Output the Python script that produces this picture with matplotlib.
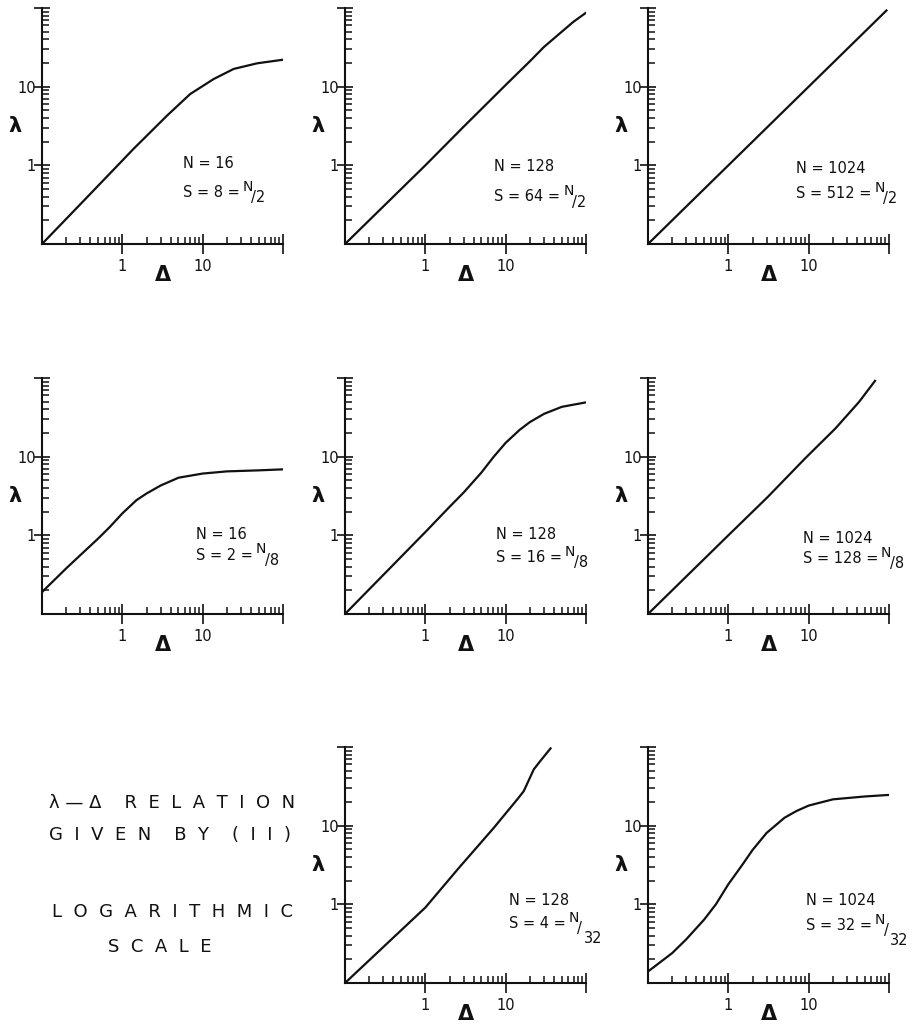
import matplotlib
matplotlib.use("Agg")
import matplotlib.pyplot as plt
from matplotlib.ticker import FixedLocator, FixedFormatter, LogLocator, NullFormatter

plt.rcParams['font.family'] = ['DejaVu Sans']

INK = '#111111'

# (delta, lambda)
x_16_2 = [0.1, 0.3, 1, 1.37, 2, 3.59, 7, 13.7, 24.3, 47.5, 100]
y_16_2 = [0.1, 0.32, 1.15, 1.61, 2.36, 4.27, 8.07, 12.5, 16.8, 19.8, 22]

x_128_2 = [0.1, 1, 3, 10, 20, 30, 50, 70, 100]
y_128_2 = [0.1, 1.0, 3.1, 10.5, 21, 32, 50, 67, 87]

x_1024_2 = [0.1, 1, 10, 93]
y_1024_2 = [0.1, 1, 10, 93]

x_16_8 = [0.1, 0.2, 0.3, 0.5, 0.7, 1, 1.5, 2, 3, 5, 10, 20, 50, 100]
y_16_8 = [0.19, 0.38, 0.56, 0.91, 1.28, 1.9, 2.8, 3.4, 4.3, 5.4, 6.1, 6.5, 6.7, 6.9]

x_128_8 = [0.1, 1, 2, 3, 5, 7, 10, 15, 20, 30, 50, 100]
y_128_8 = [0.1, 1.1, 2.3, 3.5, 6.3, 9.8, 15, 22, 27.5, 35, 43, 49]

x_1024_8 = [0.1, 1, 3.09, 8.97, 21.5, 42.5, 67]
y_1024_8 = [0.1, 1.0, 3.07, 9.44, 22.8, 49.8, 92]

x_128_32 = [0.1, 1, 2.59, 7.08, 13.9, 16.8, 22.4, 27.1, 36.2]
y_128_32 = [0.1, 0.91, 2.87, 9.33, 21.5, 27.5, 52, 66.7, 96]

x_1024_32 = [0.1, 0.2, 0.3, 0.5, 0.7, 1, 1.5, 2, 3, 5, 7, 10, 20, 50, 100]
y_1024_32 = [0.14, 0.24, 0.36, 0.64, 1.0, 1.8, 3.2, 4.9, 8.1, 12.6, 15.3, 18, 21.6, 23.5, 24.6]

n_values = [16, 128, 1024, 16, 128, 1024, 128, 1024]
s_values = [8, 64, 512, 2, 16, 128, 4, 32]
s_denoms = [2, 2, 2, 8, 8, 8, 32, 32]
curves = [(x_16_2, y_16_2), (x_128_2, y_128_2), (x_1024_2, y_1024_2),
          (x_16_8, y_16_8), (x_128_8, y_128_8), (x_1024_8, y_1024_8),
          (x_128_32, y_128_32), (x_1024_32, y_1024_32)]

# grid slot (row, col) of each panel, and label anchor in axes fraction
slots = [(0, 0), (0, 1), (0, 2), (1, 0), (1, 1), (1, 2), (2, 1), (2, 2)]
label_xy = [(0.585, 0.343, 0.22), (0.62, 0.33, 0.2), (0.614, 0.32, 0.215),
            (0.64, 0.335, 0.25), (0.627, 0.335, 0.24), (0.643, 0.32, 0.236),
            (0.68, 0.35, 0.254), (0.655, 0.35, 0.245)]

W, H = 923, 1026
fig = plt.figure(figsize=(W / 100, H / 100), dpi=100)
col_left = [42, 345, 648]
row_bottom = [244, 614, 983]
aw, ah = 241, 236

for i, ((r, c), (xs, ys)) in enumerate(zip(slots, curves)):
    lx, ly1, ly2 = label_xy[i]
    ax = fig.add_axes([col_left[c] / W, 1 - row_bottom[r] / H, aw / W, ah / H])
    ax.plot(xs, ys, color=INK, lw=1.6, solid_joinstyle='round')
    ax.set_xscale('log')
    ax.set_yscale('log')
    ax.set_xlim(0.1, 100)
    ax.set_ylim(0.1, 100)
    ax.patch.set_visible(False)
    for sp in ['top', 'right']:
        ax.spines[sp].set_visible(False)
    for sp in ['left', 'bottom']:
        ax.spines[sp].set_linewidth(1.5)
        ax.spines[sp].set_color(INK)
    for axis in [ax.xaxis, ax.yaxis]:
        axis.set_major_locator(FixedLocator([1, 10, 100]))
        axis.set_major_formatter(FixedFormatter(['1', '10', '']))
        axis.set_minor_locator(LogLocator(base=10, subs=range(2, 10), numticks=20))
        axis.set_minor_formatter(NullFormatter())
    ax.tick_params(axis='x', which='major', direction='inout', length=14, width=1.2,
                   pad=4, labelsize=10.5, color=INK, labelcolor=INK)
    ax.tick_params(axis='y', which='major', direction='inout', length=11, width=1.2,
                   pad=-1, labelsize=10.5, color=INK, labelcolor=INK)
    ax.tick_params(which='minor', direction='in', length=5, width=1.1, color=INK)
    ax.text(-0.11, 0.5, 'λ', transform=ax.transAxes, ha='center', va='center',
            fontsize=15, fontweight='bold', color=INK)
    ax.text(0.5, -0.13, 'Δ', transform=ax.transAxes, ha='center', va='center',
            fontsize=15, fontweight='bold', color=INK)
    ax.text(lx, ly1, f'N = {n_values[i]}', transform=ax.transAxes, ha='left',
            va='center', fontsize=10.5, color=INK)
    t = ax.text(lx, ly2, f'S = {s_values[i]} =', transform=ax.transAxes, ha='left',
                va='center', fontsize=10.5, color=INK)
    nt = ax.annotate('N', xy=(1, 0.5), xycoords=t, xytext=(2, 4),
                     textcoords='offset points', ha='left', va='center',
                     fontsize=10, color=INK)
    if s_denoms[i] < 10:
        ax.annotate(f'/{s_denoms[i]}', xy=(1, 0.5), xycoords=nt, xytext=(-1, -8),
                    textcoords='offset points', ha='left', va='center',
                    fontsize=10.5, color=INK)
    else:
        sl = ax.annotate('/', xy=(1, 0.5), xycoords=nt, xytext=(-1, -8),
                         textcoords='offset points', ha='left', va='center',
                         fontsize=10.5, color=INK)
        ax.annotate(str(s_denoms[i]), xy=(1, 0.5), xycoords=sl, xytext=(1, -7),
                    textcoords='offset points', ha='left', va='center',
                    fontsize=10.5, color=INK)


def spaced(s):
    return '  '.join(s)


fig.text(172 / W, 1 - 803 / H, 'λ — Δ    ' + spaced('RELATION'), ha='center', va='center',
         fontsize=13, color=INK)
fig.text(170 / W, 1 - 835 / H, spaced('GIVEN') + '    ' + spaced('BY') + '    ' + spaced('(II)'),
         ha='center', va='center', fontsize=13, color=INK)
fig.text(173 / W, 1 - 912 / H, spaced('LOGARITHMIC'), ha='center', va='center',
         fontsize=13, color=INK)
fig.text(160 / W, 1 - 947 / H, spaced('SCALE'), ha='center', va='center',
         fontsize=13, color=INK)

fig.savefig('out.png', dpi=100, facecolor='white')
